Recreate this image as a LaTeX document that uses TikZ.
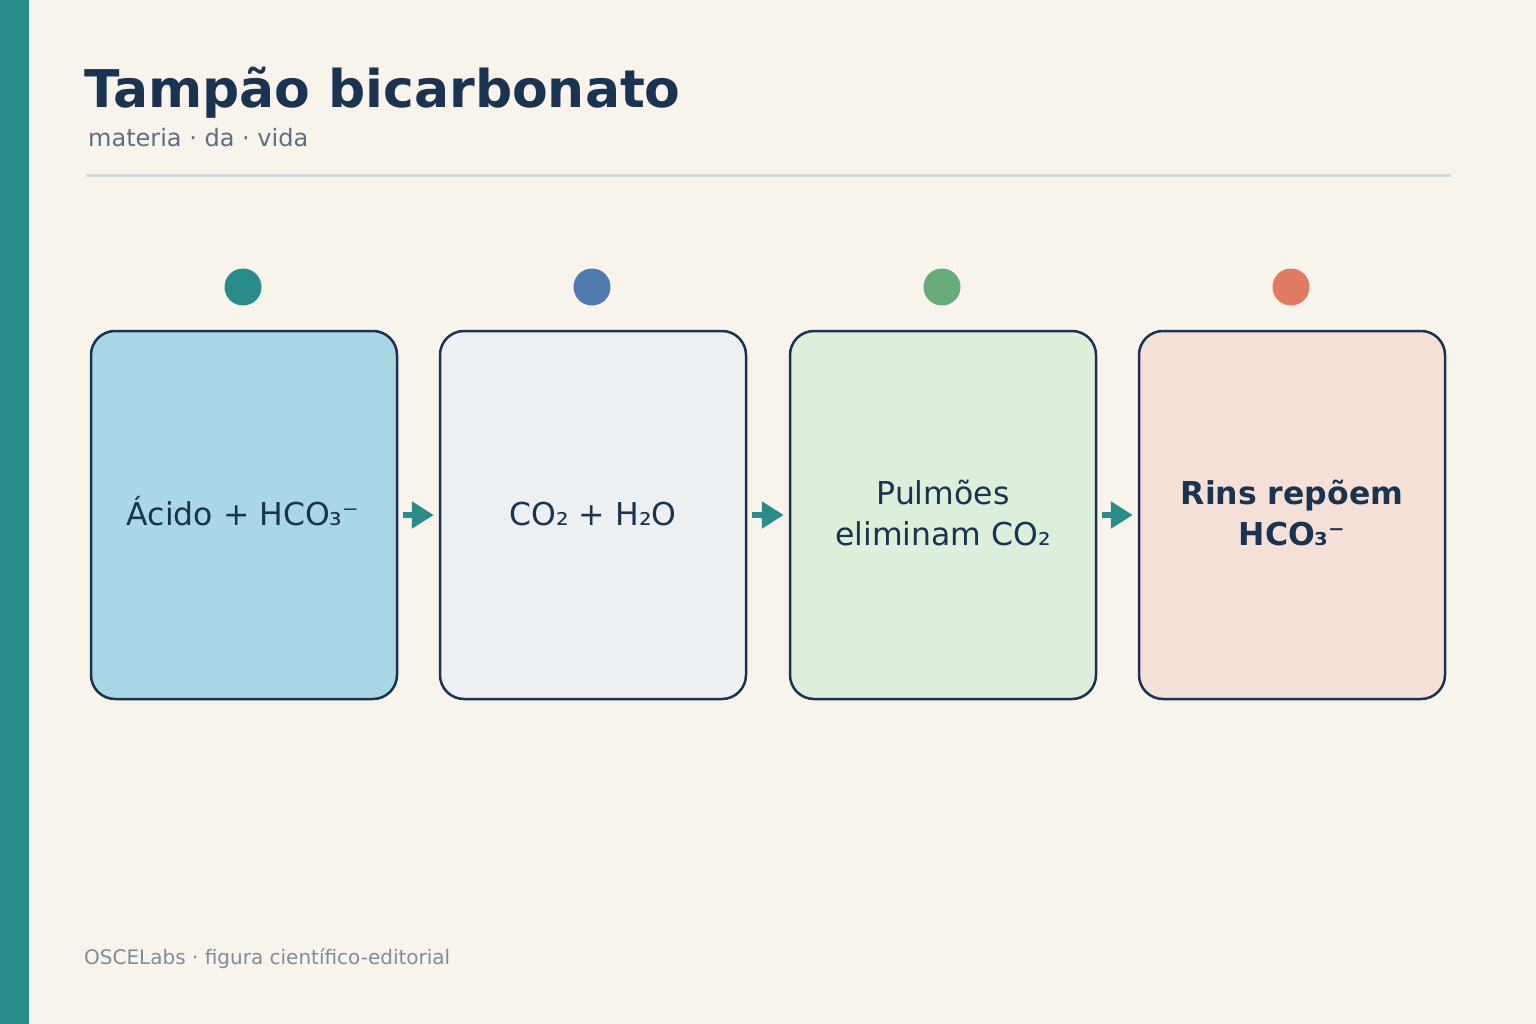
\documentclass[tikz,border=0pt]{standalone}
\usepackage{fontspec}
\setmainfont{DejaVu Sans}
\usetikzlibrary{arrows.meta}
\definecolor{bg}{HTML}{F8F4EC}
\definecolor{teal}{HTML}{2A8C88}
\definecolor{navy}{HTML}{1A3350}
\definecolor{subc}{HTML}{5E6E80}
\definecolor{footc}{HTML}{7E8D98}
\definecolor{rulec}{HTML}{D3DADB}
\definecolor{fa}{HTML}{A9D7E6}
\definecolor{fb}{HTML}{ECF0F3}
\definecolor{fc}{HTML}{DDEEDB}
\definecolor{fd}{HTML}{F5E0D7}
\definecolor{da}{HTML}{2A8C88}
\definecolor{db}{HTML}{4F7AAE}
\definecolor{dc}{HTML}{68AB7A}
\definecolor{dd}{HTML}{E07B62}
\tikzset{
  stepbox/.style={draw=navy, line width=2.5pt, rounded corners=24pt, minimum width=306pt, minimum height=368pt, inner sep=0pt},
  lbl/.style={anchor=base, inner sep=0pt, text=navy, align=center, font=\fontsize{31.5}{41}\selectfont},
  dotc/.style={circle, minimum size=37pt, inner sep=0pt},
  arr/.style={draw=teal, line width=6pt, -{Triangle[length=22pt,width=26pt]}},
}
\begin{document}
\begin{tikzpicture}[x=1pt,y=-1pt]
\useasboundingbox (0,0) rectangle (1536,1024);
\fill[bg] (0,0) rectangle (1536,1024);
\fill[teal] (0,0) rectangle (29,1024);
\node[anchor=base west, inner sep=0pt, text=navy, font=\fontsize{52}{60}\selectfont\bfseries] (title) at (84,108) {Tampão bicarbonato};
\node[anchor=base west, inner sep=0pt, text=subc, font=\fontsize{24}{28}\selectfont] (sub) at (88,147) {materia · da · vida};
\coordinate (r1) at (86,176);
\coordinate (r2) at (1451,176);
\draw[rulec, line width=3pt] (r1) -- (r2);
\node[stepbox, fill=fa] (b1) at (244,515) {};
\node[stepbox, fill=fb] (b2) at (593,515) {};
\node[stepbox, fill=fc] (b3) at (943,515) {};
\node[stepbox, fill=fd] (b4) at (1292,515) {};
\node[lbl] (t1) at (243,525) {Ácido + HCO₃⁻};
\node[lbl] (t2) at (593,525) {CO₂ + H₂O};
\node[lbl] (t3) at (943,545) {Pulmões\\eliminam CO₂};
\node[lbl, font=\fontsize{31.5}{41}\selectfont\bfseries] (t4) at (1292,545) {Rins repõem\\HCO₃⁻};
\node[dotc, fill=da] (d1) at (243,287) {};
\node[dotc, fill=db] (d2) at (592,287) {};
\node[dotc, fill=dc] (d3) at (942,287) {};
\node[dotc, fill=dd] (d4) at (1291,287) {};
\draw[arr] ([xshift=5pt]b1.east) -- ([xshift=-5pt]b2.west);
\draw[arr] ([xshift=5pt]b2.east) -- ([xshift=-5pt]b3.west);
\draw[arr] ([xshift=5pt]b3.east) -- ([xshift=-5pt]b4.west);
\node[anchor=base west, inner sep=0pt, text=footc, font=\fontsize{20}{24}\selectfont] (foot) at (84,964) {OSCELabs · figura científico-editorial};
\end{tikzpicture}
\end{document}
